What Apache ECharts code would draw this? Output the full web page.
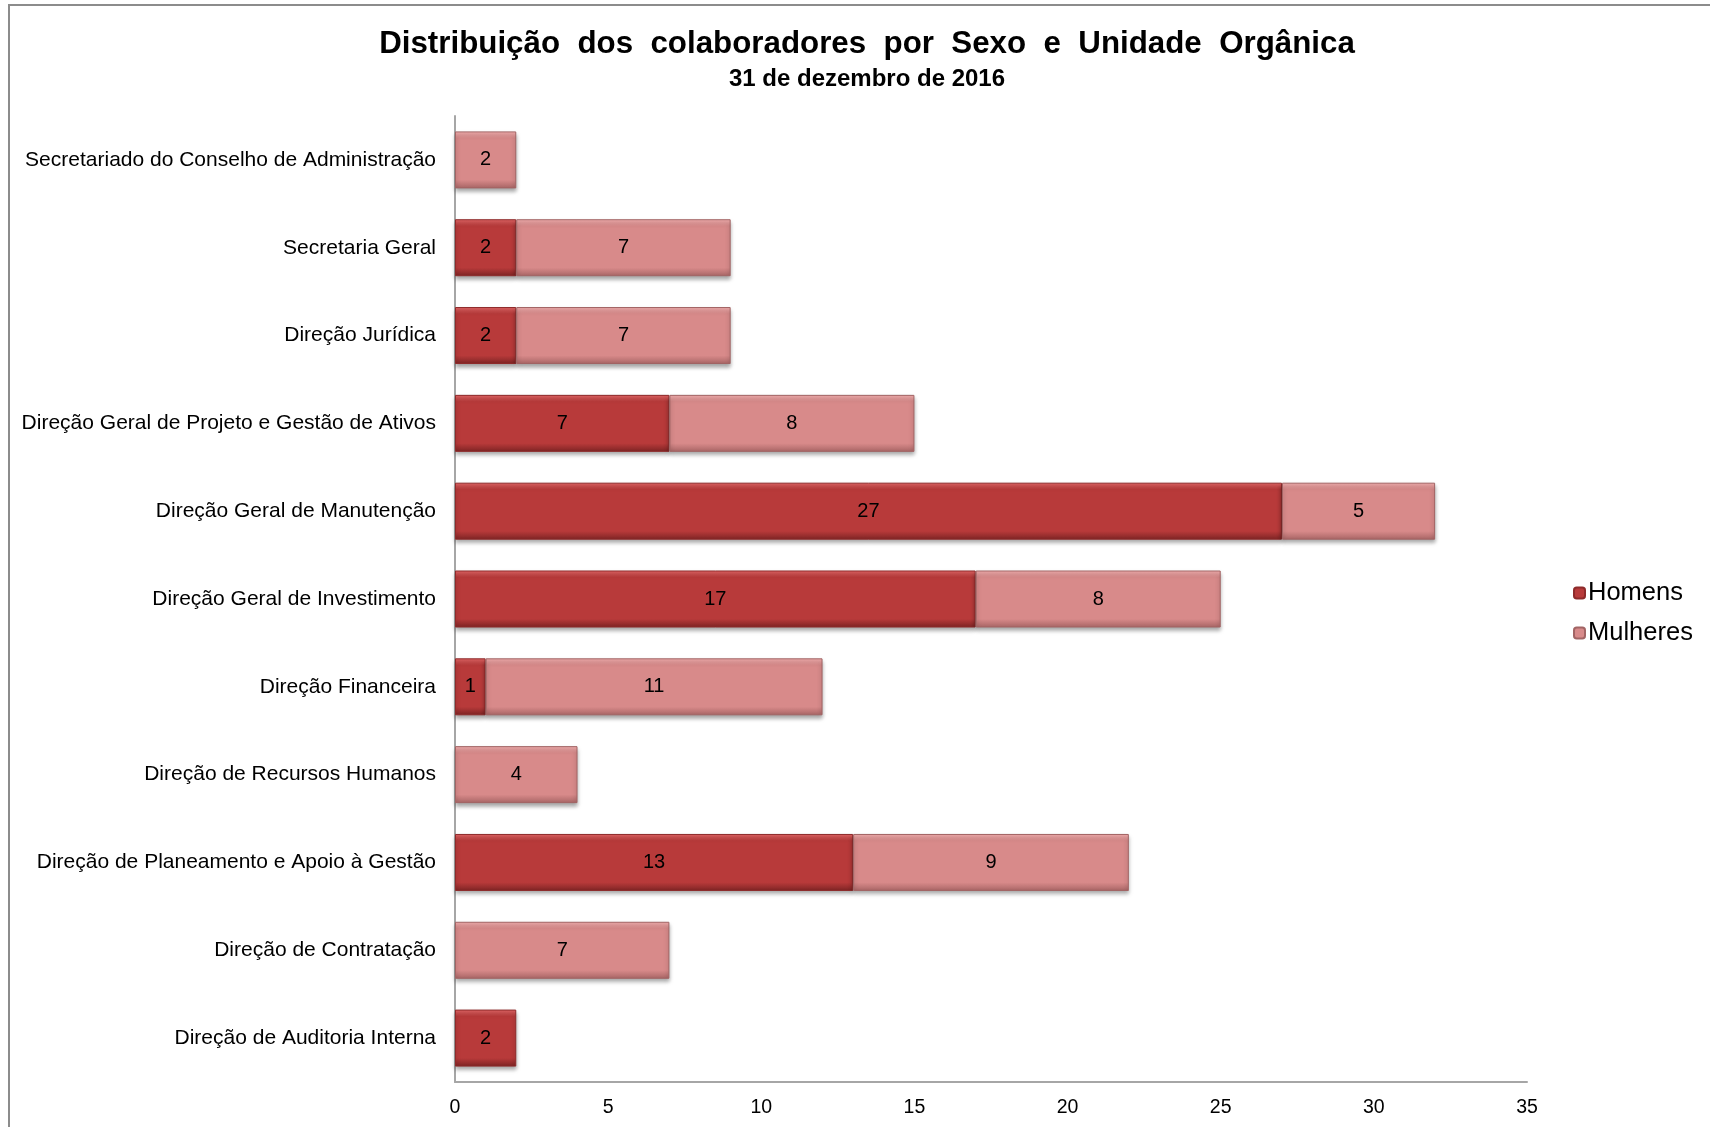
<!DOCTYPE html>
<html><head><meta charset="utf-8">
<script src="https://cdn.jsdelivr.net/npm/echarts@6/dist/echarts.min.js"></script>
<style>html,body{margin:0;padding:0;background:#fff}#c{width:1710px;height:1127px}</style>
</head><body><div id="c"></div>
<script>
const categories = [
 "Secretariado do Conselho de Administração",
 "Secretaria Geral",
 "Direção Jurídica",
 "Direção Geral de Projeto e Gestão de Ativos",
 "Direção Geral de Manutenção",
 "Direção Geral de Investimento",
 "Direção Financeira",
 "Direção de Recursos Humanos",
 "Direção de Planeamento e Apoio à Gestão",
 "Direção de Contratação",
 "Direção de Auditoria Interna"
];
const homens   = [null, 2, 2, 7, 27, 17, 1, null, 13, null, 2];
const mulheres = [2, 7, 7, 8, 5, 8, 11, 4, 9, 7, null];
const xTicks = [0, 5, 10, 15, 20, 25, 30, 35];

const font = "'Liberation Sans', Arial, sans-serif";
const chart = echarts.init(document.getElementById('c'));
function grad(top, mid, bot){
  return new echarts.graphic.LinearGradient(0,0,0,1,[
    {offset:0,color:top},{offset:0.12,color:mid},{offset:0.85,color:mid},{offset:1,color:bot}]);
}
const barLabel = {show:true, position:'inside', color:'#000', fontFamily:font, fontSize:20};
chart.setOption({
  animation:false,
  title:{
    text:'Distribuição  dos  colaboradores  por  Sexo  e  Unidade  Orgânica',
    subtext:'31 de dezembro de 2016',
    left:862, top:24, textAlign:'center', itemGap:7,
    textStyle:{fontFamily:font, fontWeight:'bold', fontSize:31.3, color:'#000'},
    subtextStyle:{fontFamily:font, fontWeight:'bold', fontSize:24, color:'#000'}
  },
  legend:{
    orient:'vertical', left:1568, top:575, itemWidth:11, itemHeight:11, itemGap:14,
    textStyle:{fontFamily:font, fontSize:25.5, color:'#000', padding:[0,0,0,-2]},
    data:['Homens','Mulheres']
  },
  grid:{left:455, right:183, top:116, bottom:45},
  xAxis:{
    type:'value', min:0, max:35, interval:5,
    axisLine:{show:true, lineStyle:{color:'#a6a6a6', width:2}},
    axisTick:{show:false}, splitLine:{show:false},
    axisLabel:{fontFamily:font, fontSize:19.5, color:'#000', margin:16,
      formatter:v => xTicks.includes(v) ? String(v) : ''}
  },
  yAxis:{
    type:'category', data:categories, inverse:true,
    axisLine:{show:true, lineStyle:{color:'#a6a6a6', width:2}},
    axisTick:{show:false},
    axisLabel:{fontFamily:font, fontSize:21, color:'#000', margin:19}
  },
  graphic:[{type:'rect', shape:{x:9,y:5,width:1720,height:1140},
    style:{fill:'none', stroke:'#8c8c8c', lineWidth:2}, silent:true}],
  series:[
    {name:'Homens', type:'bar', stack:'s', data:homens, barWidth:57,
     itemStyle:{color:grad('#e56767','#b83a3a','#7d2424'), borderColor:'#8e2a2a', borderWidth:1,
       shadowColor:'rgba(0,0,0,0.35)', shadowBlur:4, shadowOffsetY:3},
     label:barLabel},
    {name:'Mulheres', type:'bar', stack:'s', data:mulheres, barWidth:57,
     itemStyle:{color:grad('#f4b0b0','#d88a8a','#a86565'), borderColor:'#a26464', borderWidth:1,
       shadowColor:'rgba(0,0,0,0.35)', shadowBlur:4, shadowOffsetY:3},
     label:barLabel}
  ]
});
</script></body></html>
